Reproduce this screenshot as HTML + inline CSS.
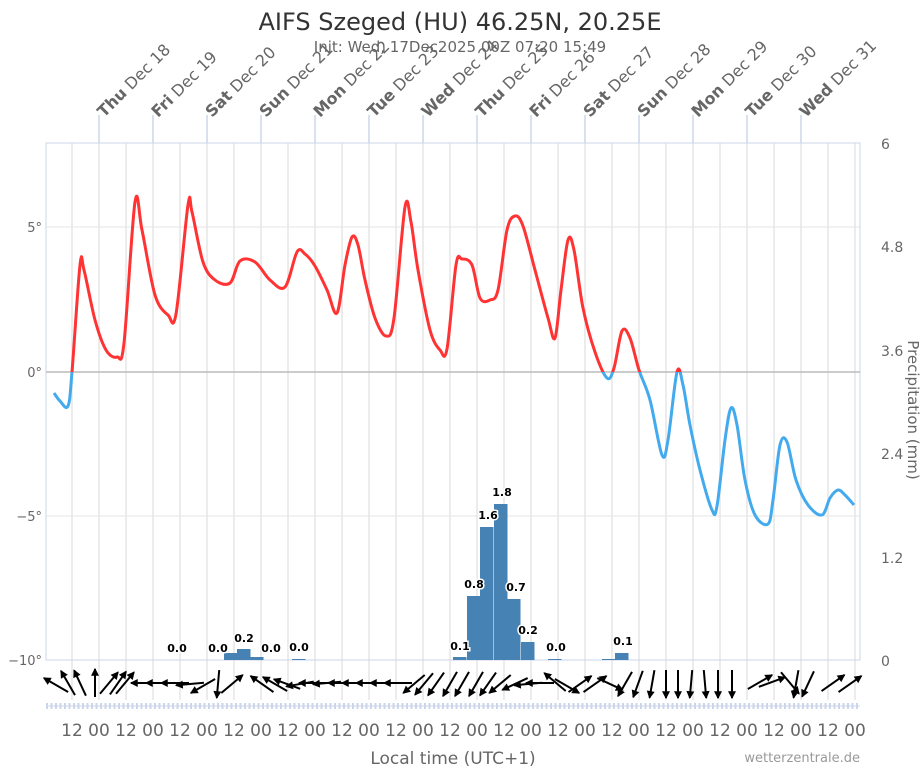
<!DOCTYPE html>
<html><head><meta charset="utf-8"><style>
html,body{margin:0;padding:0;background:#fff;}
svg{display:block;font-family:"DejaVu Sans","Liberation Sans",sans-serif;}
</style></head><body>
<svg id="s" width="921" height="768" xmlns="http://www.w3.org/2000/svg">
<rect width="921" height="768" fill="#fff"/>
<text x="460" y="30" text-anchor="middle" font-size="24" fill="#333">AIFS Szeged (HU) 46.25N, 20.25E</text>
<text x="460" y="52" text-anchor="middle" font-size="15" fill="#666">Init: Wed, 17Dec2025 00Z 07:20 15:49</text>
<g id="grid"></g>
<rect x="46" y="143" width="814" height="517" fill="none" stroke="#ccd6eb" stroke-width="1"/>
<line x1="46" y1="372" x2="860" y2="372" stroke="#bbb" stroke-width="1.5"/>
<g font-size="13" fill="#666" text-anchor="end">
<text x="42" y="232">5°</text><text x="42" y="377">0°</text><text x="42" y="521">−5°</text><text x="42" y="665">−10°</text>
</g>
<g font-size="14" fill="#666">
<text x="881" y="149">6</text><text x="881" y="252">4.8</text><text x="881" y="356">3.6</text><text x="881" y="459">2.4</text><text x="881" y="563">1.2</text><text x="881" y="666">0</text>
</g>
<text transform="translate(908,410) rotate(90)" text-anchor="middle" font-size="15" fill="#666">Precipitation (mm)</text>
<g id="bars" fill="#4682b4"></g>
<g id="temp"></g>
<g id="wind" stroke="#000" stroke-width="2" fill="none"></g>
<line x1="46" y1="706" x2="860" y2="706" stroke="#ccd6eb" stroke-width="1"/>
<g id="ticks" stroke="#ccd6eb" stroke-width="2"></g>
<g id="xl" font-size="17" fill="#666" text-anchor="middle"></g>
<text x="453" y="764" text-anchor="middle" font-size="17" fill="#666">Local time (UTC+1)</text>
<text x="860" y="762" text-anchor="end" font-size="13" fill="#999">wetterzentrale.de</text>
<g id="days" font-size="16" fill="#666"></g>
</svg>
<script>
var NS="http://www.w3.org/2000/svg";
function el(p,t,a,txt){var e=document.createElementNS(NS,t);for(var k in a)e.setAttribute(k,a[k]);if(txt!=null)e.textContent=txt;document.getElementById(p).appendChild(e);return e;}
for(var x=72;x<860;x+=27){el("grid","line",{x1:x,y1:143,x2:x,y2:700,stroke:"#e6e6e6","stroke-width":1.5});}
[227,516].forEach(function(y){el("grid","line",{x1:46,y1:y,x2:860,y2:y,stroke:"#e6e6e6","stroke-width":1});});
var names=["Thu Dec 18","Fri Dec 19","Sat Dec 20","Sun Dec 21","Mon Dec 22","Tue Dec 23","Wed Dec 24","Thu Dec 25","Fri Dec 26","Sat Dec 27","Sun Dec 28","Mon Dec 29","Tue Dec 30","Wed Dec 31"];
names.forEach(function(n,i){var x=99+54*i;el("grid","line",{x1:x,y1:115,x2:x,y2:143,stroke:"#ccd6eb","stroke-width":1.5});
var t=el("days","text",{transform:"translate("+(x+5)+",118) rotate(-45)"});var p=n.split(" ");
var b=document.createElementNS(NS,"tspan");b.setAttribute("font-weight","bold");b.textContent=p[0];t.appendChild(b);
var r=document.createElementNS(NS,"tspan");r.textContent=" "+p[1]+" "+p[2];t.appendChild(r);});
for(var x=72,i=0;x<860;x+=27,i++){el("xl","text",{x:x,y:736},i%2==0?"12":"00");}
for(var x=47;x<860;x+=4.5){el("ticks","line",{x1:x,y1:703,x2:x,y2:709});}
var bars=[[224,653],[237,649],[250,657],[292,659],[453,657],[467,596],[480,527],[494,504],[507,599],[521,642],[548,659],[602,659],[615,653]];
bars.forEach(function(b){el("bars","rect",{x:b[0],y:b[1],width:13.5,height:660-b[1]});});
var labs=[[177,"0.0",652],[218,"0.0",652],[244,"0.2",642],[271,"0.0",652],[299,"0.0",651],[460,"0.1",650],[474,"0.8",588],[488,"1.6",519],[502,"1.8",496],[516,"0.7",591],[528,"0.2",634],[556,"0.0",651],[623,"0.1",645]];
labs.forEach(function(l){el("bars","text",{x:l[0],y:l[2],"text-anchor":"middle","font-size":"11","font-weight":"bold",fill:"#000",stroke:"#fff","stroke-width":3,"paint-order":"stroke"},l[1]);});
var P=[[54,393],[60,401],[68,406],[72,372],[80,265],[84,270],[95,320],[106,350],[117,357],[124,343],[135,202],[142,230],[155,295],[168,315],[176,314],[188,205],[192,212],[203,262],[215,280],[230,283],[240,261],[255,262],[270,280],[285,287],[297,252],[305,254],[315,266],[327,290],[337,313],[345,265],[352,237],[358,245],[365,280],[375,318],[386,336],[394,318],[405,207],[411,222],[418,270],[430,330],[440,350],[447,349],[456,265],[462,259],[472,265],[480,298],[490,300],[498,290],[507,230],[515,216],[523,226],[535,270],[548,318],[555,338],[561,290],[568,240],[574,250],[583,308],[595,352],[607,378],[614,368],[622,331],[630,338],[639,370],[650,400],[662,455],[668,440],[677,372],[683,385],[690,425],[700,470],[712,510],[717,506],[725,440],[731,408],[737,425],[745,480],[755,515],[768,524],[773,500],[780,445],[787,442],[796,480],[808,505],[822,515],[830,498],[838,490],[845,495],[854,505]];
var d="M"+P[0][0]+","+P[0][1];
for(var i=0;i<P.length-1;i++){var p0=P[i-1]||P[i],p1=P[i],p2=P[i+1],p3=P[i+2]||p2;
d+=" C"+(p1[0]+(p2[0]-p0[0])/6)+","+(p1[1]+(p2[1]-p0[1])/6)+" "+(p2[0]-(p3[0]-p1[0])/6)+","+(p2[1]-(p3[1]-p1[1])/6)+" "+p2[0]+","+p2[1];}
var defs=el("temp","defs",{});
var c1=document.createElementNS(NS,"clipPath");c1.setAttribute("id","ca");defs.appendChild(c1);var r1=document.createElementNS(NS,"rect");r1.setAttribute("x",0);r1.setAttribute("y",0);r1.setAttribute("width",921);r1.setAttribute("height",372);c1.appendChild(r1);
var c2=document.createElementNS(NS,"clipPath");c2.setAttribute("id","cb");defs.appendChild(c2);var r2=document.createElementNS(NS,"rect");r2.setAttribute("x",0);r2.setAttribute("y",372);r2.setAttribute("width",921);r2.setAttribute("height",400);c2.appendChild(r2);
el("temp","path",{d:d,stroke:"#ff3333","stroke-width":3,fill:"none","clip-path":"url(#ca)"});
el("temp","path",{d:d,stroke:"#44aaee","stroke-width":3,fill:"none","clip-path":"url(#cb)"});
var W=[[56,685,-150],[68,683,-120],[80,683,-115],[95,683,-90],[109,683,-50],[118,683,-55],[125,683,-50],[145,683,180],[160,683,180],[175,683,180],[190,684,175],[203,686,150],[218,684,95],[232,684,-40],[262,684,-145],[275,684,-150],[287,684,-160],[300,684,170],[313,683,180],[327,683,175],[342,683,180],[356,683,180],[370,683,180],[384,683,180],[398,683,180],[414,684,140],[424,684,130],[436,684,125],[450,684,120],[462,684,120],[476,684,120],[488,684,125],[500,684,140],[515,684,155],[528,684,175],[540,683,180],[555,682,-140],[567,686,30],[580,684,-35],[595,684,-35],[610,684,25],[625,684,120],[638,684,110],[652,684,100],[666,684,90],[678,684,90],[691,684,95],[705,684,85],[718,684,90],[732,684,90],[760,682,-30],[772,682,-20],[790,683,50],[796,684,100],[808,684,115],[833,683,-35],[850,684,-35]];
W.forEach(function(w){var a=w[2]*Math.PI/180,L=14,dx=Math.cos(a)*L,dy=Math.sin(a)*L;
var hx=w[0]+dx,hy=w[1]+dy,tx=w[0]-dx,ty=w[1]-dy;
var h1=a+Math.PI*0.85,h2=a-Math.PI*0.85;
el("wind","line",{x1:tx,y1:ty,x2:hx,y2:hy});
el("wind","path",{d:"M"+hx+","+hy+" L"+(hx+Math.cos(h1)*7)+","+(hy+Math.sin(h1)*7)+" L"+(hx+Math.cos(h2)*7)+","+(hy+Math.sin(h2)*7)+"Z",fill:"#000","stroke-width":1});});
</script>
</body></html>
